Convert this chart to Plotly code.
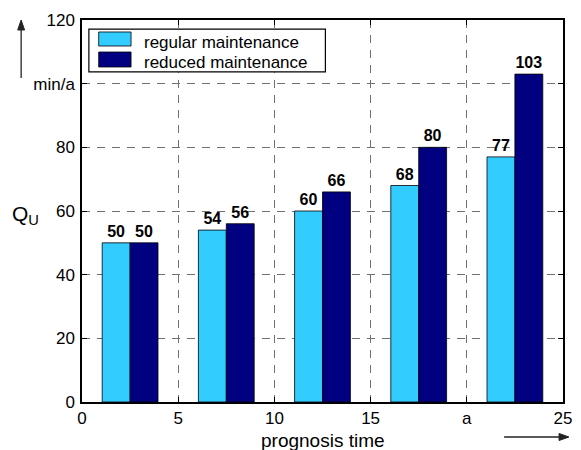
import plotly.graph_objects as go

# prognosis time points (group centres) and specific values
times = [2.5, 7.5, 12.5, 17.5, 22.5]
regular = [50, 54, 60, 68, 77]
reduced = [50, 56, 66, 80, 103]

series_names = ["regular maintenance", "reduced maintenance"]
colors = ["#33CCFF", "#000080"]

x_tickvals = [0, 5, 10, 15, 20, 25]
x_ticktext = ["0", "5", "10", "15", "a", "25"]
y_tickvals = [0, 20, 40, 60, 80, 100, 120]
y_ticktext = ["0", "20", "40", "60", "80", "min/a", "120"]

BAR_W = 1.45
FONT = "Liberation Sans, Arial, sans-serif"

fig = go.Figure()
for vals, name, col, off in [(regular, series_names[0], colors[0], -BAR_W),
                             (reduced, series_names[1], colors[1], 0.0)]:
    fig.add_trace(go.Bar(
        x=times, y=vals, name=name, width=BAR_W, offset=off,
        marker=dict(color=col, line=dict(color="black", width=0.8)),
        text=[str(v) for v in vals], textposition="outside",
        textfont=dict(family=FONT, size=16, color="black", weight="bold"),
        constraintext="none", cliponaxis=False, showlegend=False,
    ))

axis_style = dict(showgrid=True, gridcolor="#707070", gridwidth=1.3, griddash="8px,7px",
                  showline=True, linecolor="black", linewidth=1.5, mirror="ticks",
                  ticks="inside", ticklen=5, tickcolor="black", zeroline=False,
                  tickfont=dict(family=FONT, size=17, color="black"))

fig.update_xaxes(range=[0, 25], tickvals=x_tickvals, ticktext=x_ticktext, **axis_style)
fig.update_yaxes(range=[0, 120], tickvals=y_tickvals, ticktext=y_ticktext,
                 ticklabelstandoff=2, **axis_style)

ARROW = "#222222"
shapes = [
    # legend box
    dict(type="rect", xref="paper", yref="paper", x0=0.0143, x1=0.506, y0=0.864, y1=0.976,
         fillcolor="white", line=dict(color="black", width=1.2), layer="above"),
    dict(type="rect", xref="paper", yref="paper", x0=0.0347, x1=0.1020, y0=0.9319, y1=0.9686,
         fillcolor=colors[0], line=dict(color="black", width=0.8), layer="above"),
    dict(type="rect", xref="paper", yref="paper", x0=0.0347, x1=0.1020, y0=0.877, y1=0.9162,
         fillcolor=colors[1], line=dict(color="black", width=0.8), layer="above"),
    # upward arrow beside the value axis
    dict(type="line", xref="paper", yref="paper", x0=-0.12653, x1=-0.12653, y0=0.8482, y1=0.975,
         line=dict(color=ARROW, width=1.3)),
    dict(type="path", xref="paper", yref="paper",
         path="M -0.12653,1.0 L -0.13367,0.97382 L -0.11939,0.97382 Z",
         fillcolor=ARROW, line=dict(color=ARROW, width=1)),
    # rightward arrow below the time axis
    dict(type="line", xref="paper", yref="paper", x0=0.87755, x1=0.99184, y0=-0.09162, y1=-0.09162,
         line=dict(color=ARROW, width=1.3)),
    dict(type="path", xref="paper", yref="paper",
         path="M 1.01224,-0.09162 L 0.99184,-0.08246 L 0.99184,-0.10079 Z",
         fillcolor=ARROW, line=dict(color=ARROW, width=1)),
]

annotations = [
    dict(xref="paper", yref="paper", x=0.1245, y=0.9424, xanchor="left", yanchor="middle",
         text=series_names[0], showarrow=False, font=dict(family=FONT, size=17, color="black")),
    dict(xref="paper", yref="paper", x=0.1245, y=0.8883, xanchor="left", yanchor="middle",
         text=series_names[1], showarrow=False, font=dict(family=FONT, size=17, color="black")),
    # axis titles
    dict(xref="paper", yref="paper", x=0.5, y=-0.1005, xanchor="center", yanchor="middle",
         text="prognosis time", showarrow=False, font=dict(family=FONT, size=19, color="black")),
    dict(xref="paper", yref="paper", x=-0.118, y=0.4895, xanchor="center", yanchor="middle",
         text="Q<sub>U</sub>", showarrow=False, font=dict(family=FONT, size=21, color="black")),
]

fig.update_layout(
    width=581, height=450, barmode="overlay",
    margin=dict(l=82, r=9, t=20, b=48),
    plot_bgcolor="white", paper_bgcolor="white",
    shapes=shapes, annotations=annotations,
    font=dict(family=FONT, color="black"),
)

fig.write_html("out.html")
